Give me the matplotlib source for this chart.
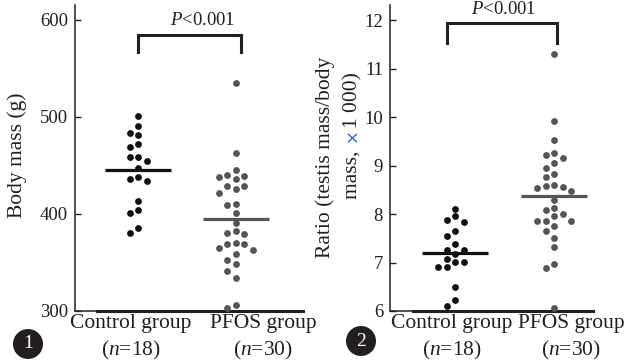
import numpy as np
import matplotlib
matplotlib.use("Agg")
import matplotlib.pyplot as plt
from matplotlib.patches import Ellipse

# ---------------- data ----------------
groups = ["Control group", "PFOS group"]
n_labels = ["($n$=18)", "($n$=30)"]
p_label = "$P$<0.001"

body_control = [500.7, 490.1, 483.3, 481.2, 468.6, 471.9, 459.0, 454.9, 459.0,
                446.7, 435.7, 434.3, 437.7, 413.4, 403.5, 400.7, 379.9, 385.0]
body_pfos = [534.6, 462.4, 444.9, 438.7, 435.4, 437.7, 439.8, 428.8, 425.7, 421.3,
             428.2, 408.9, 410.0, 400.4, 390.8, 379.9, 379.4, 382.2, 369.6, 368.9,
             369.2, 362.4, 358.6, 365.1, 348.6, 352.4, 341.1, 334.2, 303.4, 306.2]
ratio_control = [8.11, 7.95, 7.83, 7.88, 7.64, 7.54, 7.38, 7.25, 7.25,
                 7.17, 7.01, 7.07, 7.01, 6.90, 6.90, 6.49, 6.22, 6.10]
ratio_pfos = [11.29, 9.92, 9.53, 9.22, 9.26, 9.15, 9.06, 8.94, 8.83, 8.77,
              8.60, 8.56, 8.47, 8.53, 8.57, 8.28, 8.12, 8.09, 8.00, 7.95,
              7.86, 7.86, 7.85, 7.75, 7.64, 7.51, 7.33, 6.97, 6.88, 6.07]
body_ticks = [300, 400, 500, 600]
ratio_ticks = [6, 7, 8, 9, 10, 11, 12]
panel_numbers = ["1", "2"]

# ---------------- style ----------------
W, H = 627, 361
FONT = "Liberation Serif"
INK = "#231f20"
C_CTRL = "#111111"
C_PFOS = "#555555"
plt.rcParams["font.family"] = [FONT, "DejaVu Sans"]
plt.rcParams["mathtext.fontset"] = "custom"
plt.rcParams["mathtext.rm"] = FONT
plt.rcParams["mathtext.it"] = FONT + ":italic"

fig = plt.figure(figsize=(W / 100, H / 100), dpi=100)


def fx(x):
    return x / W


def fy(y):
    return 1 - y / H


def add_axes(x0, x1, ytop, ybot):
    return fig.add_axes([fx(x0), fy(ybot), (x1 - x0) / W, (ybot - ytop) / H])


def swarm(ax, xc, vals, color, step_px=8.5, diam_px=7.5):
    vals = np.asarray(vals, float)
    pts = ax.transData.transform(np.column_stack([np.full(len(vals), xc), vals]))
    ypx = pts[:, 1]
    px_per_x = (ax.transData.transform((1, 0))[0] - ax.transData.transform((0, 0))[0])
    order = np.argsort(-vals)
    placed = []
    offs = np.zeros(len(vals))
    cand = [0]
    for k in range(1, 8):
        cand += [-k, k]
    for i in order:
        for k in cand:
            xo = k * step_px
            ok = all((xo - px) ** 2 + (ypx[i] - py) ** 2 >= diam_px ** 2 for px, py in placed)
            if ok:
                placed.append((xo, ypx[i]))
                offs[i] = xo / px_per_x
                break
    ax.scatter(xc + offs, vals, s=24, color=color, linewidths=0, zorder=3)
    hw = 32.7 / px_per_x
    ax.hlines(np.mean(vals), xc - hw, xc + hw, color=color, lw=2.3, zorder=4)


def style_axes(ax, ticks, thick_start):
    for s in ["top", "right"]:
        ax.spines[s].set_visible(False)
    for s in ["left", "bottom"]:
        ax.spines[s].set_color(INK)
        ax.spines[s].set_linewidth(1.1)
    ax.set_yticks(ticks)
    ax.set_xticks([])
    ax.tick_params(axis="y", direction="in", length=4, width=1, colors=INK,
                   labelsize=13.5, pad=5)
    ax.axhline(ax.get_ylim()[0], thick_start, 1, color=INK, lw=2.2, clip_on=False)


def bracket(ax, x0, x1, ytop, ybot, tx, ty):
    ax.plot([x0, x0, x1, x1], [ybot, ytop, ytop, ybot], color=INK, lw=2.2,
            solid_joinstyle="miter", clip_on=False)
    ax.text(tx, ty, p_label, ha="center", va="center", fontsize=13.5, color=INK)


# ---------------- panel 1 ----------------
ax1 = add_axes(75, 303, 5, 311)
ax1.set_xlim(-0.643, 1.684)
ax1.set_ylim(300, 615)
style_axes(ax1, body_ticks, 0.096)
swarm(ax1, 0, body_control, C_CTRL)
swarm(ax1, 1, body_pfos, C_PFOS)
bracket(ax1, 0, 1.05, 584, 567, 0.66, 599)

# ---------------- panel 2 ----------------
ax2 = add_axes(390, 593, 5, 311)
ax2.set_xlim(-0.657, 1.394)
ax2.set_ylim(6, 12.31)
style_axes(ax2, ratio_ticks, 0.113)
swarm(ax2, 0, ratio_control, C_CTRL)
swarm(ax2, 1, ratio_pfos, C_PFOS)
bracket(ax2, -0.08, 1.03, 11.94, 11.53, 0.49, 12.22)

# ---------------- category labels ----------------
label_centers = [(131, 263), (452, 571)]
for centers in label_centers:
    for cx, g, n in zip(centers, groups, n_labels):
        fig.text(fx(cx), fy(328), g, ha="center", va="baseline", fontsize=15.5, color=INK)
        fig.text(fx(cx), fy(355), n, ha="center", va="baseline", fontsize=15.5, color=INK)

# ---------------- y labels ----------------
fig.text(fx(17), fy(155), "Body mass (g)", rotation=90, ha="center", va="center",
         fontsize=15.5, color=INK)
fig.text(fx(325), fy(157.5), "Ratio (testis mass/body", rotation=90, ha="center",
         va="center", fontsize=15.5, color=INK)
renderer = fig.canvas.get_renderer()
pieces = [("mass, ", INK, [FONT], 15.5), ("\u00d7", "#2a6fc9", ["DejaVu Sans"], 12),
          ("1 000)", INK, [FONT], 15.5)]
ystart = H - 199  # display coords (origin bottom)
xbase = 357
for txt, col, fam, fs in pieces:
    t = fig.text(xbase / W, ystart / H, txt, rotation=90, rotation_mode="anchor",
                 ha="left", va="baseline", fontsize=fs, color=col, family=fam)
    bb = t.get_window_extent(renderer)
    ystart = bb.y1 + (3 if txt.endswith(" ") else 0)

# ---------------- panel numbers ----------------
for (cx, cy), num in zip([(28, 344), (361, 341)], panel_numbers):
    fig.add_artist(Ellipse((fx(cx), fy(cy)), 30 / W, 30 / H, transform=fig.transFigure,
                           facecolor=INK, edgecolor="none"))
    fig.text(fx(cx), fy(cy), num, ha="center", va="center", fontsize=14, color="white")

fig.savefig("out.png", dpi=100)
